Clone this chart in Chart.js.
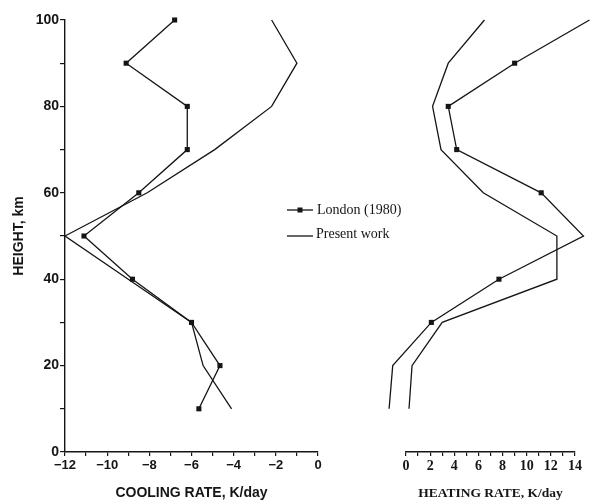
<!DOCTYPE html>
<html>
<head>
<meta charset="utf-8">
<script src="https://cdn.jsdelivr.net/npm/chart.js@4.4.1/dist/chart.umd.min.js"></script>
<style>
  html, body { margin: 0; padding: 0; background: #fff; }
  #wrap { position: relative; width: 592px; height: 502px; }
  canvas { position: absolute; top: 0; }
  #cool { left: 0; }
  #heat { left: 330px; }
</style>
</head>
<body>
<div id="wrap">
  <canvas id="cool" width="430" height="502"></canvas>
  <canvas id="heat" width="262" height="502"></canvas>
</div>
<script>
// Heights (km) shared by every profile
const heights = [100, 90, 80, 70, 60, 50, 40, 30, 20, 10];

// Cooling rate, K/day
const londonCooling  = [-6.8, -9.1, -6.2, -6.2, -8.5, -11.1, -8.8, -6.0, -4.65, -5.65];
const presentCooling = [-2.2, -1.0, -2.2, -4.9, -8.1, -12.0, -9.0, -6.0, -5.45, -4.1];

// Heating rate, K/day
const londonHeating  = [15.2, 9.0, 3.5, 4.2, 11.2, 14.7, 7.7, 2.1, -1.1, -1.4];
const presentHeating = [6.5, 3.5, 2.2, 2.9, 6.4, 12.5, 12.5, 3.0, 0.5, 0.25];

const seriesNames = ['London (1980)', 'Present work'];
const heightTicks = [0, 20, 40, 60, 80, 100];
const coolingTicks = [-12, -10, -8, -6, -4, -2, 0];
const heatingTicks = [0, 2, 4, 6, 8, 10, 12, 14];

const ink = '#151515';
const sans = '"Liberation Sans", Arial, sans-serif';
const serif = '"Liberation Serif", "Times New Roman", serif';

function toPoints(xs) {
    return xs.map((v, i) => ({ x: v, y: heights[i] }));
}

function makeDatasets(london, present) {
    return [
        {
            label: seriesNames[0],
            data: toPoints(london),
            borderColor: ink,
            borderWidth: 1.3,
            pointStyle: 'rect',
            pointRadius: 3.6,
            pointBackgroundColor: ink,
            pointBorderWidth: 0,
            tension: 0,
            clip: false
        },
        {
            label: seriesNames[1],
            data: toPoints(present),
            borderColor: ink,
            borderWidth: 1.3,
            pointRadius: 0,
            tension: 0,
            clip: false
        }
    ];
}

function fmt(v) {
    return v < 0 ? '\u2212' + Math.abs(v) : String(v);
}

// legend drawn in the middle of the figure
const middleLegend = {
    id: 'middleLegend',
    afterDraw(chart) {
        const ctx = chart.ctx;
        ctx.save();
        ctx.strokeStyle = ink;
        ctx.fillStyle = ink;
        ctx.lineWidth = 1.3;
        ctx.font = '14px ' + serif;
        ctx.textBaseline = 'middle';
        // London (1980)
        ctx.beginPath();
        ctx.moveTo(287, 210);
        ctx.lineTo(313, 210);
        ctx.stroke();
        ctx.fillRect(297.5, 207.5, 5, 5);
        ctx.fillText(chart.data.datasets[0].label, 317, 210);
        // Present work
        ctx.beginPath();
        ctx.moveTo(287, 236);
        ctx.lineTo(313, 236);
        ctx.stroke();
        ctx.fillText(chart.data.datasets[1].label, 316, 234);
        ctx.restore();
    }
};

const common = {
    responsive: false,
    animation: false,
    devicePixelRatio: 1,
    plugins: { legend: { display: false }, tooltip: { enabled: false } }
};

new Chart(document.getElementById('cool'), {
    type: 'line',
    data: { datasets: makeDatasets(londonCooling, presentCooling) },
    plugins: [middleLegend],
    options: {
        ...common,
        layout: { padding: { left: 0, top: 20, right: 112, bottom: 0 } },
        scales: {
            x: {
                type: 'linear',
                min: -12,
                max: 0,
                afterFit(scale) { scale.height = 50; },
                afterBuildTicks(scale) {
                    const t = [];
                    for (let v = -12; v <= 0; v++) t.push({ value: v });
                    scale.ticks = t;
                },
                ticks: {
                    autoSkip: false,
                    maxRotation: 0,
                    padding: 2,
                    color: ink,
                    font: { family: sans, size: 13, weight: 'bold' },
                    callback: v => coolingTicks.includes(v) ? fmt(v) : ''
                },
                grid: { drawOnChartArea: false, tickLength: 4, color: ink, lineWidth: 1.2 },
                border: { color: ink, width: 1.4 },
                title: {
                    display: true,
                    text: 'COOLING RATE, K/day',
                    color: ink,
                    font: { family: sans, size: 14, weight: 'bold' },
                    padding: { top: 9, bottom: 0 }
                }
            },
            y: {
                type: 'linear',
                min: 0,
                max: 100,
                afterFit(scale) { scale.width = 65; },
                afterBuildTicks(scale) {
                    const t = [];
                    for (let v = 0; v <= 100; v += 10) t.push({ value: v });
                    scale.ticks = t;
                },
                ticks: {
                    autoSkip: false,
                    padding: 1,
                    color: ink,
                    font: { family: sans, size: 14, weight: 'bold' },
                    callback: v => heightTicks.includes(v) ? String(v) : ''
                },
                grid: { drawOnChartArea: false, tickLength: 5, color: ink, lineWidth: 1.2 },
                border: { color: ink, width: 1.4 },
                title: {
                    display: true,
                    text: 'HEIGHT, km',
                    color: ink,
                    font: { family: sans, size: 14, weight: 'bold' },
                    padding: { top: 11, bottom: 0 }
                }
            }
        }
    }
});

new Chart(document.getElementById('heat'), {
    type: 'line',
    data: { datasets: makeDatasets(londonHeating, presentHeating) },
    options: {
        ...common,
        layout: { padding: { left: 76, top: 20, right: 17, bottom: 0 } },
        scales: {
            x: {
                type: 'linear',
                min: 0,
                max: 14,
                afterFit(scale) { scale.height = 50; },
                afterBuildTicks(scale) {
                    const t = [];
                    for (let v = 0; v <= 14; v++) t.push({ value: v });
                    scale.ticks = t;
                },
                ticks: {
                    autoSkip: false,
                    maxRotation: 0,
                    padding: 2,
                    color: ink,
                    font: { family: serif, size: 14, weight: 'bold' },
                    callback: v => heatingTicks.includes(v) ? String(v) : ''
                },
                grid: { drawOnChartArea: false, tickLength: 4, color: ink, lineWidth: 1.2 },
                border: { color: ink, width: 1.4 },
                title: {
                    display: true,
                    text: 'HEATING RATE, K/day',
                    color: ink,
                    font: { family: serif, size: 13.5, weight: 'bold' },
                    padding: { top: 8, bottom: 0 }
                }
            },
            y: {
                type: 'linear',
                min: 0,
                max: 100,
                display: false
            }
        }
    }
});
</script>
</body>
</html>
